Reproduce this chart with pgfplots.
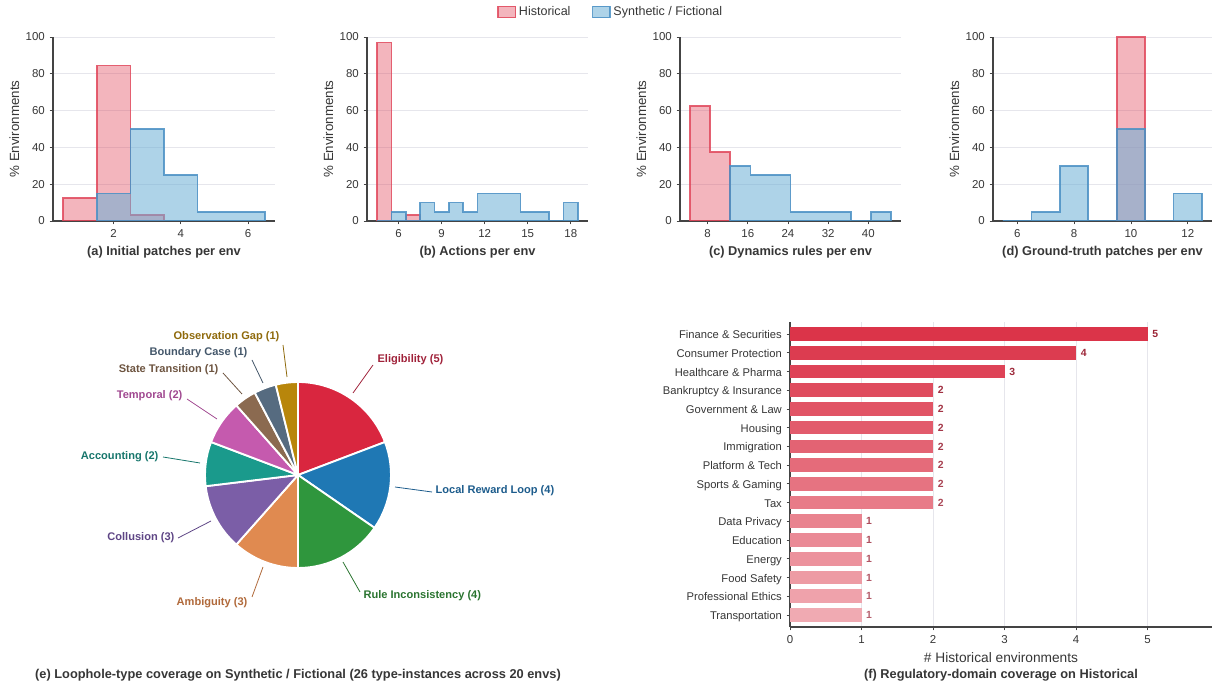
\documentclass[border=0pt]{standalone}
\usepackage{fontspec}
\setmainfont{Liberation Sans}
\usepackage{pgfplots}
\pgfplotsset{compat=1.18}

\definecolor{histR}{HTML}{E0475B}
\definecolor{histB}{HTML}{4A90C4}
\definecolor{histBfill}{HTML}{6BAED6}
\definecolor{axisgray}{HTML}{444444}
\definecolor{gridgray}{HTML}{E6E6EC}
\definecolor{txt}{HTML}{363636}
\definecolor{barhi}{HTML}{DB3449}
\definecolor{barlo}{HTML}{F0AAB2}
\definecolor{labhi}{HTML}{9B2335}
\definecolor{lablo}{HTML}{B5606E}
% pie colours
\definecolor{cElig}{HTML}{D9263F}\definecolor{tElig}{HTML}{A0223A}
\definecolor{cLoc}{HTML}{1F78B4}\definecolor{tLoc}{HTML}{1D5C8C}
\definecolor{cRule}{HTML}{2F963D}\definecolor{tRule}{HTML}{2A7430}
\definecolor{cAmb}{HTML}{E08A50}\definecolor{tAmb}{HTML}{B0693A}
\definecolor{cColl}{HTML}{7B5EA7}\definecolor{tColl}{HTML}{5E4585}
\definecolor{cAcc}{HTML}{1A9A8C}\definecolor{tAcc}{HTML}{17766C}
\definecolor{cTemp}{HTML}{C55AAE}\definecolor{tTemp}{HTML}{A04890}
\definecolor{cState}{HTML}{8B6A50}\definecolor{tState}{HTML}{6D5440}
\definecolor{cBound}{HTML}{566B80}\definecolor{tBound}{HTML}{44576A}
\definecolor{cObs}{HTML}{B8860B}\definecolor{tObs}{HTML}{8F6A0C}

\pgfplotsset{
  /pgf/number format/assume math mode=true,
  base/.style={
    scale only axis, anchor=center,
    axis lines=left, axis line style={-, axisgray, line width=0.8pt},
    tick align=outside, major tick length=2.6pt,
    tick style={axisgray, line width=0.6pt},
    ticklabel style={font=\fontsize{8.6}{10}\selectfont, text=txt},
    grid style={gridgray, line width=0.6pt},
  },
  histax/.style={
    base, height=138pt,
    ymin=0, ymax=100, ytick={0,20,...,100}, ymajorgrids,
    ylabel={\% Environments},
    ylabel style={font=\fontsize{10}{12}\selectfont, text=txt, yshift=-2pt},
    xlabel style={font=\bfseries\fontsize{9.6}{11}\selectfont, text=txt},
    legend image code/.code={\draw[#1] (0pt,-4.2pt) rectangle (13pt,4.2pt);},
  },
  hR/.style={const plot, fill=histR, fill opacity=0.4, draw=histR, draw opacity=0.85, line width=1.2pt, mark=none},
  hB/.style={const plot, fill=histBfill, fill opacity=0.55, draw=histB, draw opacity=0.85, line width=1.2pt, mark=none},
}

% one pie slice between cumulative counts #2 and #3 of 26
\newcommand\pieslice[3]{\filldraw[fill=#1, draw=white, line width=1.4pt, line join=round]
  (axis cs:0,0) -- ++({90-360*#2/26}:69.75pt) arc[start angle={90-360*#2/26}, end angle={90-360*#3/26}, radius=69.75pt] -- cycle;}
% one horizontal bar: index, value, shade
\newcommand\hbarplot[3]{\addplot[fill=barhi!#3!barlo, draw=none, nodes near coords,
  every node near coord/.append style={text=labhi!#3!lablo}] coordinates {(#2,#1)};}

\begin{document}
\begin{tikzpicture}

% (a)
\begin{axis}[histax, at={(123pt,419.25pt)}, width=166.5pt,
  xmin=0.2, xmax=6.8, xtick={2,4,6}, xlabel={(a) Initial patches per env},
  legend style={at={(2.514,1.136)}, anchor=center, draw=none, fill=none,
    legend columns=2, font=\fontsize{9.4}{11}\selectfont, text=txt,
    /tikz/every even column/.append style={column sep=14pt}},
  legend cell align=left]
\addplot[hR] coordinates {(0.5,12.5) (1.5,84.4) (2.5,3.1) (3.5,3.1)} \closedcycle;
\addplot[hB] coordinates {(1.5,15) (2.5,50) (3.5,25) (4.5,5) (6.5,5)} \closedcycle;
\legend{Historical, Synthetic / Fictional}
\end{axis}

% (b)
\begin{axis}[histax, at={(358.125pt,419.25pt)}, width=165.75pt,
  xmin=3.8, xmax=19.2, xtick={6,9,12,15,18}, xlabel={(b) Actions per env}]
\addplot[hR] coordinates {(4.5,96.9) (5.5,0) (6.5,3.1) (7.5,3.1)} \closedcycle;
\addplot[hB] coordinates {(4.5,0) (5.5,5) (6.5,0) (7.5,10) (8.5,5) (9.5,10) (10.5,5)
  (11.5,15) (14.5,5) (16.5,0) (17.5,10) (18.5,10)} \closedcycle;
\end{axis}

% (c)
\begin{axis}[histax, at={(592.875pt,419.25pt)}, width=165.75pt,
  xmin=2.5, xmax=46.5, xtick={8,16,24,32,40}, xlabel={(c) Dynamics rules per env}]
\addplot[hR] coordinates {(4.5,62.5) (8.5,37.5) (12.5,37.5)} \closedcycle;
\addplot[hB] coordinates {(12.5,30) (16.5,25) (24.5,5) (36.5,0) (40.5,5) (44.5,5)} \closedcycle;
\end{axis}

% (d)
\begin{axis}[histax, at={(826.875pt,419.25pt)}, width=164.25pt,
  xmin=5.15, xmax=12.85, xtick={6,8,10,12}, xlabel={(d) Ground-truth patches per env}]
\addplot[hR] coordinates {(9.5,100) (10.5,100)} \closedcycle;
\addplot[hB] coordinates {(5.5,0) (6.5,5) (7.5,30) (8.5,0) (9.5,50) (10.5,0) (11.5,15) (12.5,15)} \closedcycle;
\end{axis}

% (e) pie: counts 5,4,4,3,3,2,2,1,1,1 (26)
\begin{axis}[at={(223.5pt,159.75pt)}, anchor=center, scale only axis, width=225pt, height=225pt,
  xmin=-150, xmax=150, ymin=-150, ymax=150, hide axis, clip=false]
\pieslice{cElig}{0}{5}
\pieslice{cLoc}{5}{9}
\pieslice{cRule}{9}{13}
\pieslice{cAmb}{13}{16}
\pieslice{cColl}{16}{19}
\pieslice{cAcc}{19}{21}
\pieslice{cTemp}{21}{23}
\pieslice{cState}{23}{24}
\pieslice{cBound}{24}{25}
\pieslice{cObs}{25}{26}
\begin{scope}[line width=0.6pt]
\draw[tElig] (axis cs:55,82) -- (axis cs:75,110);
\draw[tLoc] (axis cs:97,-12) -- (axis cs:134,-17);
\draw[tRule] (axis cs:45,-87) -- (axis cs:62,-117);
\draw[tAmb] (axis cs:-35,-92) -- (axis cs:-46,-122);
\draw[tColl] (axis cs:-87,-46) -- (axis cs:-120,-63);
\draw[tAcc] (axis cs:-98,12) -- (axis cs:-135,18);
\draw[tTemp] (axis cs:-81,56) -- (axis cs:-111,76);
\draw[tState] (axis cs:-56,81) -- (axis cs:-75,102);
\draw[tBound] (axis cs:-35,92) -- (axis cs:-46,115);
\draw[tObs] (axis cs:-11,98) -- (axis cs:-15,130);
\end{scope}
\begin{scope}[every node/.style={font=\bfseries\fontsize{8.3}{10}\selectfont, inner sep=1pt}]
\node[anchor=west, text=tElig] at (axis cs:78,115) {Eligibility (5)};
\node[anchor=west, text=tLoc] at (axis cs:136,-16) {Local Reward Loop (4)};
\node[anchor=west, text=tRule] at (axis cs:64,-121) {Rule Inconsistency (4)};
\node[anchor=east, text=tAmb] at (axis cs:-49,-128) {Ambiguity (3)};
\node[anchor=east, text=tColl] at (axis cs:-122,-63) {Collusion (3)};
\node[anchor=east, text=tAcc] at (axis cs:-138,18) {Accounting (2)};
\node[anchor=east, text=tTemp] at (axis cs:-114,79) {Temporal (2)};
\node[anchor=east, text=tState] at (axis cs:-78,105) {State Transition (1)};
\node[anchor=east, text=tBound] at (axis cs:-49,122) {Boundary Case (1)};
\node[anchor=east, text=tObs] at (axis cs:-17,138) {Observation Gap (1)};
\end{scope}
\node[font=\bfseries\fontsize{9.6}{11}\selectfont, text=txt] at (axis cs:0,-200)
  {(e) Loophole-type coverage on Synthetic / Fictional (26 type-instances across 20 envs)};
\end{axis}

% (f) bars
\begin{axis}[base, at={(750.75pt,160.125pt)}, width=316.5pt, height=228.75pt,
  clip=false,
  xbar, bar width=0.73, bar shift=0pt,
  xmin=0, xmax=5.9, ymin=-0.64, ymax=15.64,
  xtick={0,...,5}, xmajorgrids,
  ytick={0,...,15},
  yticklabels={Transportation, Professional Ethics, Food Safety, Energy, Education, Data Privacy,
    Tax, Sports \& Gaming, Platform \& Tech, Immigration, Housing, Government \& Law,
    Bankruptcy \& Insurance, Healthcare \& Pharma, Consumer Protection, Finance \& Securities},
  yticklabel style={font=\fontsize{8.4}{10}\selectfont, text height=1.6ex, text depth=0.3ex},
  xlabel={\# Historical environments},
  xlabel style={font=\fontsize{10.3}{12}\selectfont, text=txt},
  nodes near coords align={horizontal},
  every node near coord/.append style={font=\bfseries\fontsize{7.8}{9}\selectfont}]
\hbarplot{0}{1}{0}
\hbarplot{1}{1}{7}
\hbarplot{2}{1}{13}
\hbarplot{3}{1}{20}
\hbarplot{4}{1}{27}
\hbarplot{5}{1}{33}
\hbarplot{6}{2}{40}
\hbarplot{7}{2}{47}
\hbarplot{8}{2}{53}
\hbarplot{9}{2}{60}
\hbarplot{10}{2}{67}
\hbarplot{11}{2}{73}
\hbarplot{12}{2}{80}
\hbarplot{13}{3}{87}
\hbarplot{14}{4}{93}
\hbarplot{15}{5}{100}
\node[font=\bfseries\fontsize{9.6}{11}\selectfont, text=txt] at (axis description cs:0.5,-0.157)
  {(f) Regulatory-domain coverage on Historical};
\end{axis}

\pgfresetboundingbox
\path[use as bounding box] (0pt,0pt) rectangle (909.75pt,516pt);
\end{tikzpicture}
\end{document}
